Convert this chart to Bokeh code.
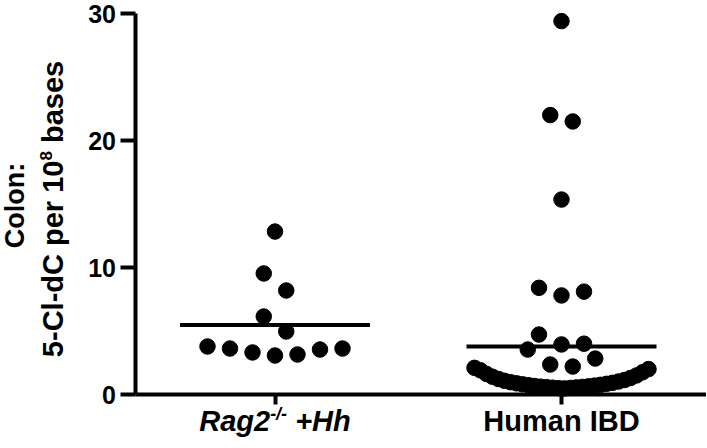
import numpy as np
from bokeh.plotting import figure
from bokeh.models import Label, FixedTicker, Range1d, ColumnDataSource
from bokeh.embed import file_html
from bokeh.resources import INLINE

# ---------------- data ----------------
group_names = ["Rag2-/- +Hh", "Human IBD"]
group_positions = [1, 2]
y_ticks = [0, 10, 20, 30]

rag2_values = [12.83, 9.53, 8.19, 6.14, 4.96, 3.78, 3.62, 3.31, 3.07, 3.15, 3.54, 3.62]

ibd_high_values = [29.4, 22.0, 21.5, 15.35, 8.1, 7.8, 8.4, 4.72, 3.54, 3.94, 4.0,
                   2.36, 2.2, 2.83]
ibd_low_values = [0.48, 0.5, 0.52, 0.54, 0.56, 0.58, 0.6, 0.62, 0.64, 0.67, 0.7,
                  0.73, 0.76, 0.8, 0.84, 0.88, 0.92, 0.97, 1.02, 1.08, 1.14, 1.22,
                  1.3, 1.4, 1.5, 1.62, 1.75, 1.9, 2.0, 2.1]
ibd_values = ibd_high_values + ibd_low_values

# ---------------- layout constants (pixels) ----------------
W, H = 706, 446
CAT1_PX, CAT2_PX = 274.5, 561.0      # x pixel of the two categories
Y0_PX, Y30_PX = 394.0, 13.0          # y pixel of value 0 and value 30
AXIS_X_PX = 134.5                    # y-axis line position
px_x = CAT2_PX - CAT1_PX
px_y = (Y0_PX - Y30_PX) / 30.0
BASE_FIX = 0.43                      # renderer baseline shift, in em


def xdata(px):
    return 1 + (px - CAT1_PX) / px_x


def ydata(py):
    return (Y0_PX - py) / px_y


FONT = "Liberation Sans"


def swarm_offsets(vals, bin_size=1.7, step_px=22.5, max_half_px=87.0):
    """Prism-like column scatter: rows of similar values, spread centre-out."""
    vals = np.asarray(vals, dtype=float)
    order = np.argsort(vals, kind="stable")
    rows, cur = [], []
    for i in order:
        if cur and vals[i] - vals[cur[0]] >= bin_size:
            rows.append(cur)
            cur = []
        cur.append(i)
    if cur:
        rows.append(cur)
    offs = np.zeros(len(vals))
    for row in rows:
        n = len(row)
        step = step_px if n == 1 else min(step_px, 2 * max_half_px / (n - 1))
        if n % 2:
            slots = [0] + [s for k in range(1, n // 2 + 1) for s in (k, -k)]
        else:
            slots = [s for k in range(n // 2) for s in (k + 0.5, -(k + 0.5))]
        for idx, slot in zip(row, slots):
            offs[idx] = slot * step
    return offs / px_x


p = figure(width=W, height=H, output_backend="svg", toolbar_location=None,
           x_range=Range1d(xdata(0), xdata(W)), y_range=Range1d(ydata(H), ydata(0)),
           min_border_left=0, min_border_right=0, min_border_top=0,
           min_border_bottom=0)
p.outline_line_color = None
p.xgrid.visible = False
p.ygrid.visible = False
p.background_fill_color = "white"
p.border_fill_color = "white"

xs, ys = [], []
for pos, vals in zip(group_positions, [rag2_values, ibd_values]):
    offs = swarm_offsets(vals)
    xs += list(pos + offs)
    ys += list(vals)
src = ColumnDataSource(dict(x=xs, y=ys))
p.scatter("x", "y", source=src, size=15.5, marker="circle",
          fill_color="black", line_color="black")

# mean lines
half = 95.0 / px_x
means = [float(np.mean(rag2_values)), float(np.mean(ibd_values))]
p.segment(x0=[g - half for g in group_positions], x1=[g + half for g in group_positions],
          y0=means, y1=means, line_color="black", line_width=4)

# axes (drawn at fixed locations)
for ax in (p.xaxis[0], p.yaxis[0]):
    ax.axis_line_width = 4
    ax.axis_line_color = "black"
    ax.major_tick_line_width = 4
    ax.major_tick_line_color = "black"
    ax.major_tick_in = 0
    ax.minor_tick_line_color = None
    ax.major_label_text_font = FONT
    ax.major_label_text_font_style = "bold"
    ax.major_label_text_color = "black"

p.yaxis.fixed_location = xdata(AXIS_X_PX)
p.yaxis.bounds = (0, 30)
p.yaxis.ticker = FixedTicker(ticks=y_ticks)
p.yaxis.major_tick_out = 15
p.yaxis.major_label_text_font_size = "25px"
p.yaxis.major_label_standoff = 4

p.xaxis.fixed_location = 0
p.xaxis.bounds = (xdata(AXIS_X_PX), xdata(W))
p.xaxis.ticker = FixedTicker(ticks=group_positions)
p.xaxis.major_tick_out = 10
p.xaxis.major_label_overrides = {1: " ", 2: " "}

# Arial-metric advance widths, per 1000 em
ADV = {" ": 278, "+": 584, "-": 333, "/": 278, ":": 333, "0": 556, "1": 556,
       "2": 556, "5": 556, "8": 556, "B": 722, "C": 722, "D": 722, "H": 722,
       "I": 278, "R": 722, "a": 556, "b": 611, "d": 611, "e": 556, "g": 611,
       "h": 611, "l": 278, "m": 889, "n": 611, "o": 611, "p": 611, "r": 389,
       "s": 556, "u": 611}


def tw(s, size):
    return sum(ADV.get(c, 600) for c in s) * size / 1000.0


# ---- category labels ----
XS = 29
BASE_Y = 433
parts = [("Rag2", XS, 0), ("-/-", 18, 12), (" +Hh", XS, 0)]
total = sum(tw(t, s) for t, s, _ in parts)
cur = -total / 2
for t, s, rise in parts:
    lead = len(t) - len(t.lstrip(" "))
    p.add_layout(Label(x=1, y=ydata(BASE_Y - rise - BASE_FIX * s),
                       x_offset=cur + tw(" " * lead, s), text=t.lstrip(" "),
                       text_font=FONT, text_font_style="bold italic",
                       text_font_size=f"{s}px", text_color="black",
                       text_align="left", text_baseline="alphabetic"))
    cur += tw(t, s)

p.add_layout(Label(x=2, y=ydata(BASE_Y - BASE_FIX * XS), text=group_names[1],
                   text_font=FONT, text_font_style="bold",
                   text_font_size=f"{XS}px", text_color="black",
                   text_align="center", text_baseline="alphabetic"))

# ---- y title (two rotated lines) ----
TS = 27
p.add_layout(Label(x=xdata(26.5 - BASE_FIX * TS), y=ydata(205), text="Colon:",
                   angle=np.pi / 2, text_font=FONT, text_font_style="bold",
                   text_font_size=f"{TS}px", text_color="black",
                   text_align="center", text_baseline="alphabetic"))

TS2 = 29
line2 = [("5-Cl-dC per 10", TS2, 0), ("8", 17, 12), (" bases", TS2, 0)]
tot2 = sum(tw(t, s) for t, s, _ in line2)
start = 208.5 + tot2 / 2
bx = 65
for t, s, rise in line2:
    lead = len(t) - len(t.lstrip(" "))
    p.add_layout(Label(x=xdata(bx - rise - BASE_FIX * s),
                       y=ydata(start - tw(" " * lead, s)), text=t.lstrip(" "),
                       angle=np.pi / 2, text_font=FONT, text_font_style="bold",
                       text_font_size=f"{s}px", text_color="black",
                       text_align="left", text_baseline="alphabetic"))
    start -= tw(t, s)

open("out.html", "w").write(file_html(p, INLINE))
